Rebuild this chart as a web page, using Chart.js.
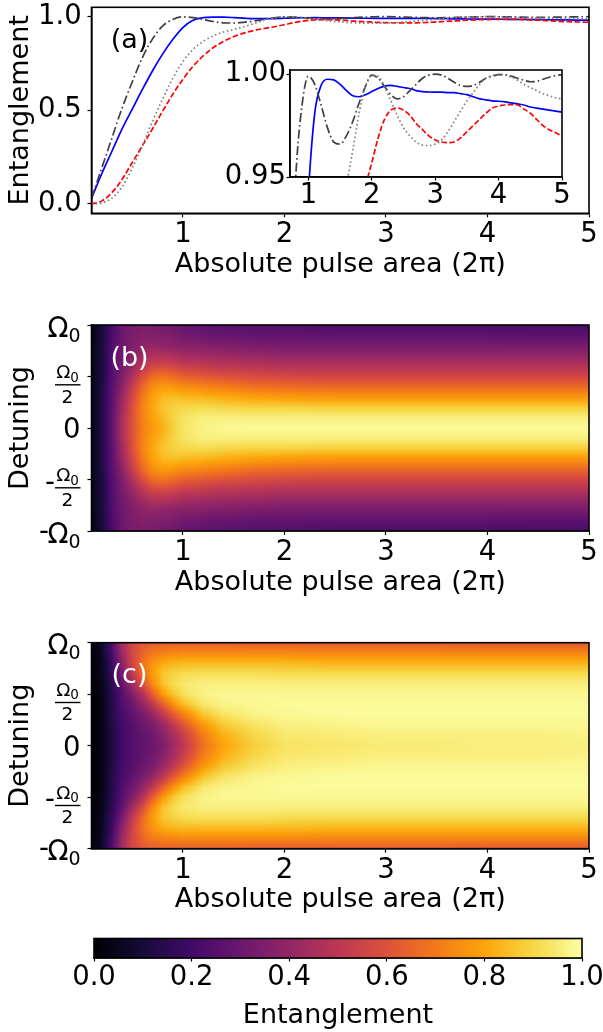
<!DOCTYPE html>
<html><head><meta charset="utf-8">
<script src="https://cdn.jsdelivr.net/npm/chart.js@4/dist/chart.umd.min.js"></script>
<style>
html,body{margin:0;padding:0;background:#fff;}
#wrap{position:relative;width:603px;height:1032px;overflow:hidden;background:#fff;}
canvas{position:absolute;display:block;}
</style></head><body>
<div id="wrap">
<canvas id="cA" width="603" height="300" style="left:0;top:0"></canvas>
<canvas id="cI" width="380" height="160" style="left:200px;top:55px"></canvas>
<canvas id="cB" width="603" height="310" style="left:0;top:300px"></canvas>
<canvas id="cC" width="603" height="310" style="left:0;top:620px"></canvas>
<canvas id="cBar" width="603" height="107" style="left:0;top:925px"></canvas>
</div>
<script>
// ---------------- data ----------------
const pulseArea = [0.1,0.2,0.3,0.4,0.5,0.6,0.7,0.8,0.9,1.0,1.1,1.2,1.3,1.4,1.5,1.6,1.7,1.8,1.9,2.0,2.1,2.2,2.3,2.4,2.5,2.6,2.7,2.8,2.9,3.0,3.1,3.2,3.3,3.4,3.5,3.6,3.7,3.8,3.9,4.0,4.1,4.2,4.3,4.4,4.5,4.6,4.7,4.8,4.9,5.0];
const entDashDot = [0.03,0.19,0.35,0.51,0.65,0.78,0.88,0.95,0.985,0.999,
 0.995,0.985,0.974,0.967,0.966,0.970,0.977,0.986,0.994,0.9995,
 0.998,0.994,0.990,0.988,0.989,0.992,0.995,0.998,0.9995,1.000,
 0.9995,0.998,0.996,0.9945,0.994,0.9945,0.996,0.998,0.999,0.9998,
 0.9997,0.999,0.998,0.997,0.9963,0.9965,0.9975,0.9985,0.9993,0.9998];
const entSolid = [0.03,0.16,0.28,0.40,0.505,0.61,0.71,0.80,0.878,0.942,
 0.981,0.9945,0.9975,0.9972,0.995,0.992,0.9895,0.989,0.990,0.9915,
 0.993,0.9942,0.9945,0.994,0.9935,0.993,0.992,0.9915,0.9913,0.9912,
 0.9912,0.991,0.991,0.9905,0.990,0.989,0.988,0.9875,0.987,0.9868,
 0.9865,0.986,0.9855,0.985,0.984,0.9835,0.983,0.9825,0.982,0.9815];
const entDotted = [0.0,0.005,0.03,0.09,0.19,0.31,0.44,0.56,0.67,0.76,
 0.825,0.868,0.898,0.918,0.932,0.946,0.963,0.981,0.994,0.9995,
 0.999,0.994,0.987,0.980,0.974,0.970,0.967,0.9655,0.9653,0.966,
 0.968,0.972,0.977,0.982,0.987,0.991,0.995,0.998,0.9993,0.9998,
 0.9995,0.9985,0.997,0.995,0.9935,0.992,0.9905,0.9895,0.9885,0.988];
const entDashed = [0.0,0.015,0.06,0.13,0.22,0.31,0.40,0.495,0.585,0.665,
 0.735,0.79,0.835,0.868,0.893,0.912,0.926,0.937,0.946,0.957,
 0.969,0.978,0.9825,0.9835,0.9825,0.980,0.976,0.973,0.970,0.968,
 0.967,0.9667,0.967,0.969,0.972,0.975,0.978,0.981,0.9835,0.9845,
 0.985,0.9852,0.985,0.983,0.981,0.978,0.975,0.973,0.9715,0.970];

const xTicks = [1,2,3,4,5];
const yTicksMain = [0.0,0.5,1.0];
const yTicksInset = [0.95,1.00];
const detuningTicks = [1,0.5,0,-0.5,-1];
const cbTicks = [0.0,0.2,0.4,0.6,0.8,1.0];

const heatArea = [0.1,0.2,0.3,0.4,0.5,0.6,0.7,0.8,0.9,1.0,1.2,1.4,1.7,2.0,2.5,3.0,3.5,4.0,4.5,5.0];
const detuning = [1.0,0.9,0.8,0.7,0.6,0.5,0.4,0.3,0.2,0.1,0.0,-0.1,-0.2,-0.3,-0.4,-0.5,-0.6,-0.7,-0.8,-0.9,-1.0];

const heatB = [
 [0.03,0.10,0.22,0.30,0.33,0.34,0.33,0.32,0.31,0.29,0.27,0.26,0.25,0.24,0.23,0.23,0.23,0.22,0.22,0.22],
 [0.03,0.10,0.22,0.30,0.34,0.36,0.36,0.35,0.34,0.32,0.30,0.29,0.28,0.28,0.27,0.27,0.27,0.27,0.26,0.26],
 [0.03,0.11,0.23,0.31,0.35,0.38,0.40,0.39,0.38,0.37,0.36,0.35,0.34,0.33,0.33,0.33,0.33,0.33,0.33,0.33],
 [0.03,0.11,0.23,0.32,0.37,0.43,0.47,0.47,0.46,0.44,0.43,0.42,0.41,0.40,0.40,0.40,0.40,0.40,0.40,0.40],
 [0.03,0.11,0.24,0.33,0.41,0.50,0.56,0.57,0.56,0.53,0.52,0.50,0.49,0.48,0.48,0.48,0.48,0.48,0.48,0.48],
 [0.03,0.11,0.24,0.35,0.46,0.58,0.67,0.69,0.67,0.64,0.62,0.60,0.58,0.57,0.56,0.56,0.56,0.56,0.56,0.56],
 [0.03,0.12,0.25,0.38,0.52,0.66,0.75,0.78,0.77,0.75,0.73,0.71,0.68,0.67,0.66,0.66,0.66,0.66,0.66,0.66],
 [0.03,0.12,0.26,0.41,0.56,0.70,0.79,0.84,0.85,0.84,0.83,0.81,0.79,0.78,0.77,0.77,0.77,0.77,0.77,0.77],
 [0.03,0.12,0.26,0.43,0.59,0.72,0.80,0.86,0.89,0.90,0.91,0.90,0.89,0.89,0.88,0.88,0.88,0.88,0.88,0.88],
 [0.03,0.12,0.27,0.45,0.60,0.72,0.79,0.84,0.89,0.93,0.96,0.96,0.96,0.96,0.96,0.96,0.96,0.96,0.96,0.96],
 [0.03,0.12,0.27,0.45,0.60,0.71,0.77,0.82,0.88,0.93,0.97,0.98,0.99,0.99,0.99,0.99,0.99,0.99,0.99,0.99],
 [0.03,0.12,0.27,0.45,0.60,0.72,0.79,0.84,0.89,0.93,0.96,0.96,0.96,0.96,0.96,0.96,0.96,0.96,0.96,0.96],
 [0.03,0.12,0.26,0.43,0.59,0.72,0.80,0.86,0.89,0.90,0.91,0.90,0.89,0.89,0.88,0.88,0.88,0.88,0.88,0.88],
 [0.03,0.12,0.26,0.41,0.56,0.70,0.79,0.84,0.85,0.84,0.83,0.81,0.79,0.78,0.77,0.77,0.77,0.77,0.77,0.77],
 [0.03,0.12,0.25,0.38,0.52,0.66,0.75,0.78,0.77,0.75,0.73,0.71,0.68,0.67,0.66,0.66,0.66,0.66,0.66,0.66],
 [0.03,0.11,0.24,0.35,0.46,0.58,0.67,0.69,0.67,0.64,0.62,0.60,0.58,0.57,0.56,0.56,0.56,0.56,0.56,0.56],
 [0.03,0.11,0.24,0.33,0.41,0.50,0.56,0.57,0.56,0.53,0.52,0.50,0.49,0.48,0.48,0.48,0.48,0.48,0.48,0.48],
 [0.03,0.11,0.23,0.32,0.37,0.43,0.47,0.47,0.46,0.44,0.43,0.42,0.41,0.40,0.40,0.40,0.40,0.40,0.40,0.40],
 [0.03,0.11,0.23,0.31,0.35,0.38,0.40,0.39,0.38,0.37,0.36,0.35,0.34,0.33,0.33,0.33,0.33,0.33,0.33,0.33],
 [0.03,0.10,0.22,0.30,0.34,0.36,0.36,0.35,0.34,0.32,0.30,0.29,0.28,0.28,0.27,0.27,0.27,0.27,0.26,0.26],
 [0.03,0.10,0.22,0.30,0.33,0.34,0.33,0.32,0.31,0.29,0.27,0.26,0.25,0.24,0.23,0.23,0.23,0.22,0.22,0.22]
];

const heatC = [
 [0.01,0.07,0.23,0.44,0.56,0.61,0.63,0.64,0.64,0.64,0.64,0.64,0.63,0.63,0.63,0.63,0.63,0.62,0.62,0.62],
 [0.01,0.06,0.21,0.42,0.56,0.65,0.70,0.72,0.73,0.74,0.74,0.74,0.74,0.74,0.73,0.73,0.73,0.73,0.73,0.73],
 [0.00,0.05,0.19,0.38,0.55,0.68,0.76,0.81,0.83,0.84,0.84,0.84,0.84,0.84,0.83,0.83,0.83,0.83,0.83,0.83],
 [0.00,0.05,0.17,0.33,0.51,0.66,0.78,0.86,0.89,0.91,0.92,0.92,0.92,0.91,0.91,0.91,0.91,0.91,0.91,0.91],
 [0.00,0.04,0.15,0.28,0.43,0.58,0.74,0.85,0.91,0.94,0.96,0.96,0.96,0.96,0.96,0.96,0.96,0.96,0.96,0.96],
 [0.00,0.04,0.14,0.25,0.35,0.47,0.63,0.77,0.86,0.92,0.97,0.98,0.98,0.98,0.98,0.98,0.98,0.98,0.98,0.98],
 [0.00,0.03,0.13,0.23,0.30,0.39,0.50,0.63,0.75,0.84,0.94,0.97,0.98,0.99,0.99,0.99,0.99,0.99,0.99,0.99],
 [0.00,0.03,0.13,0.22,0.27,0.33,0.40,0.50,0.61,0.71,0.86,0.93,0.97,0.98,0.99,0.99,0.99,0.99,0.99,0.99],
 [0.00,0.03,0.12,0.21,0.25,0.30,0.34,0.41,0.50,0.60,0.77,0.87,0.93,0.96,0.97,0.98,0.98,0.98,0.98,0.98],
 [0.00,0.03,0.12,0.20,0.24,0.28,0.31,0.37,0.44,0.53,0.71,0.82,0.90,0.94,0.95,0.96,0.96,0.96,0.96,0.97],
 [0.00,0.03,0.12,0.20,0.24,0.27,0.30,0.35,0.42,0.50,0.68,0.80,0.88,0.93,0.94,0.95,0.95,0.96,0.96,0.96],
 [0.00,0.03,0.12,0.20,0.24,0.28,0.31,0.37,0.44,0.53,0.71,0.82,0.90,0.94,0.95,0.96,0.96,0.96,0.96,0.97],
 [0.00,0.03,0.12,0.21,0.25,0.30,0.34,0.41,0.50,0.60,0.77,0.87,0.93,0.96,0.97,0.98,0.98,0.98,0.98,0.98],
 [0.00,0.03,0.13,0.22,0.27,0.33,0.40,0.50,0.61,0.71,0.86,0.93,0.97,0.98,0.99,0.99,0.99,0.99,0.99,0.99],
 [0.00,0.03,0.13,0.23,0.30,0.39,0.50,0.63,0.75,0.84,0.94,0.97,0.98,0.99,0.99,0.99,0.99,0.99,0.99,0.99],
 [0.00,0.04,0.14,0.25,0.35,0.47,0.63,0.77,0.86,0.92,0.97,0.98,0.98,0.98,0.98,0.98,0.98,0.98,0.98,0.98],
 [0.00,0.04,0.15,0.28,0.43,0.58,0.74,0.85,0.91,0.94,0.96,0.96,0.96,0.96,0.96,0.96,0.96,0.96,0.96,0.96],
 [0.00,0.05,0.17,0.33,0.51,0.66,0.78,0.86,0.89,0.91,0.92,0.92,0.92,0.91,0.91,0.91,0.91,0.91,0.91,0.91],
 [0.00,0.05,0.19,0.38,0.55,0.68,0.76,0.81,0.83,0.84,0.84,0.84,0.84,0.84,0.83,0.83,0.83,0.83,0.83,0.83],
 [0.01,0.06,0.21,0.42,0.56,0.65,0.70,0.72,0.73,0.74,0.74,0.74,0.74,0.74,0.73,0.73,0.73,0.73,0.73,0.73],
 [0.01,0.07,0.23,0.44,0.56,0.61,0.63,0.64,0.64,0.64,0.64,0.64,0.63,0.63,0.63,0.63,0.63,0.62,0.62,0.62]
];

const inferno = ['#000004','#160b39','#420a68','#6a176e','#932667','#bc3754','#dd513a','#f37819','#fca50a','#f6d746','#fcffa4'];

// ---------------- helpers ----------------
const FAM = "'DejaVu Sans', sans-serif";
const TFS = 27.5;   // tick font
const LFS = 27;     // axis title font
Chart.defaults.font.family = FAM;
Chart.defaults.color = '#000';
Chart.defaults.animation = false;
Chart.defaults.events = [];
Chart.defaults.plugins.legend.display = false;
Chart.defaults.plugins.tooltip.enabled = false;

const infRGB = inferno.map(h => [parseInt(h.slice(1,3),16), parseInt(h.slice(3,5),16), parseInt(h.slice(5,7),16)]);
function cmap(v){
  v = Math.max(0, Math.min(1, v));
  const n = infRGB.length - 1, f = v * n;
  const i = Math.min(n - 1, Math.floor(f)), t = f - i;
  const a = infRGB[i], b = infRGB[i+1];
  return [a[0]+(b[0]-a[0])*t, a[1]+(b[1]-a[1])*t, a[2]+(b[2]-a[2])*t];
}

function xAxis(o){
  return {
    type:'linear', position:'bottom', min:o.min, max:o.max,
    afterBuildTicks: s => { s.ticks = o.ticks.map(v => ({value:v})); },
    afterFit: s => { s.height = o.height; s.paddingLeft = 0; s.paddingRight = 0; },
    ticks:{ font:{size:TFS}, color:'#000', padding:o.pad, maxRotation:0, autoSkip:false, callback:o.fmt },
    grid:{ display:true, drawOnChartArea:false, drawTicks:true, tickLength:o.tl, tickColor:'#000', tickWidth:1.2 },
    border:{ display:true, color:'#000', width:1.6 },
    title: o.title ? { display:true, text:o.title, font:{size:LFS}, color:'#000', padding:{top:0, bottom:o.tpad} } : { display:false }
  };
}
function yAxis(o){
  return {
    type:'linear', position:'left', min:o.min, max:o.max,
    afterBuildTicks: s => { s.ticks = o.ticks.map(v => ({value:v})); },
    afterFit: s => { s.width = o.width; s.paddingTop = 0; s.paddingBottom = 0; },
    ticks:{ font:{size:TFS}, color:'#000', padding:o.pad, autoSkip:false, callback:o.fmt },
    grid:{ display:true, drawOnChartArea:false, drawTicks:true, tickLength:o.tl, tickColor:'#000', tickWidth:1.2 },
    border:{ display:true, color:'#000', width:1.6 },
    title: o.title ? { display:true, text:o.title, font:{size:LFS}, color:'#000', padding:{top:4.8, bottom:0} } : { display:false }
  };
}
const frame = { id:'frame', afterDraw(c){
  const a = c.chartArea, ctx = c.ctx;
  ctx.save(); ctx.strokeStyle = '#000'; ctx.lineWidth = 1.6;
  ctx.strokeRect(a.left, a.top, a.right - a.left, a.bottom - a.top); ctx.restore();
}};
const whiteBg = { id:'whiteBg', beforeDraw(c){
  const a = c.chartArea, ctx = c.ctx;
  ctx.save(); ctx.fillStyle = '#fff'; ctx.fillRect(a.left, a.top, a.right - a.left, a.bottom - a.top); ctx.restore();
}};
function panelLabel(text, color){
  return { id:'plabel', afterDatasetsDraw(c){
    const a = c.chartArea, ctx = c.ctx;
    ctx.save(); ctx.fillStyle = color; ctx.font = LFS + 'px ' + FAM;
    ctx.textAlign = 'center'; ctx.textBaseline = 'middle';
    ctx.fillText(text, a.left + 38, a.top + 33.5); ctx.restore();
  }};
}
function heatPlugin(grid){
  return { id:'heat', beforeDatasetsDraw(chart){
    const {ctx, chartArea:a, scales:{x, y}} = chart;
    const L = Math.floor(a.left), T = Math.floor(a.top);
    const W = Math.ceil(a.right) - L, H = Math.ceil(a.bottom) - T;
    const off = document.createElement('canvas'); off.width = W; off.height = H;
    const octx = off.getContext('2d'); const img = octx.createImageData(W, H);
    const nc = heatArea.length, nr = detuning.length;
    const ci = [], ct = [];
    for (let i = 0; i < W; i++){
      let v = x.getValueForPixel(L + i + 0.5);
      v = Math.min(Math.max(v, heatArea[0]), heatArea[nc-1]);
      let k = 0; while (k < nc - 2 && heatArea[k+1] < v) k++;
      ci.push(k); ct.push((v - heatArea[k]) / (heatArea[k+1] - heatArea[k]));
    }
    for (let j = 0; j < H; j++){
      let d = y.getValueForPixel(T + j + 0.5);
      d = Math.min(Math.max(d, detuning[nr-1]), detuning[0]);
      let r = 0; while (r < nr - 2 && detuning[r+1] > d) r++;
      const s = (detuning[r] - d) / (detuning[r] - detuning[r+1]);
      for (let i = 0; i < W; i++){
        const k = ci[i], t = ct[i];
        const top = grid[r][k] * (1 - t) + grid[r][k+1] * t;
        const bot = grid[r+1][k] * (1 - t) + grid[r+1][k+1] * t;
        const c = cmap(top * (1 - s) + bot * s);
        const p = (j * W + i) * 4;
        img.data[p] = c[0]; img.data[p+1] = c[1]; img.data[p+2] = c[2]; img.data[p+3] = 255;
      }
    }
    octx.putImageData(img, 0, 0);
    ctx.save(); ctx.beginPath(); ctx.rect(a.left, a.top, a.right - a.left, a.bottom - a.top); ctx.clip();
    ctx.drawImage(off, L, T); ctx.restore();
  }};
}
const omegaLabels = { id:'omega', afterDraw(chart){
  const ctx = chart.ctx, ys = chart.scales.y, R = 80.5;
  ctx.save(); ctx.fillStyle = '#000'; ctx.strokeStyle = '#000'; ctx.textBaseline = 'alphabetic';
  detuningTicks.forEach(v => {
    const t = ys.getPixelForValue(v);
    if (Math.abs(v) === 1){
      ctx.font = '19px ' + FAM; const w0 = ctx.measureText('0').width;
      ctx.textAlign = 'left'; ctx.fillText('0', R - w0, t + 16.5);
      ctx.font = TFS + 'px ' + FAM; ctx.textAlign = 'right'; ctx.fillText('Ω', R - w0, t + 11.5);
      if (v < 0){ const wO = ctx.measureText('Ω').width; ctx.fillText('-', R - w0 - wO + 1.5, t + 8.5); }
    } else if (v === 0){
      ctx.font = TFS + 'px ' + FAM; ctx.textAlign = 'right'; ctx.fillText('0', R, t + 10.3);
    } else {
      const cx = 67.5;
      ctx.lineWidth = 1.4; ctx.beginPath(); ctx.moveTo(55, t + 8.3); ctx.lineTo(80.5, t + 8.3); ctx.stroke();
      ctx.font = '18.5px ' + FAM; const wO = ctx.measureText('Ω').width;
      ctx.font = '13.5px ' + FAM; const w0 = ctx.measureText('0').width;
      const st = cx - (wO + w0) / 2;
      ctx.textAlign = 'left';
      ctx.font = '18.5px ' + FAM; ctx.fillText('Ω', st, t + 1.8);
      ctx.font = '13.5px ' + FAM; ctx.fillText('0', st + wO, t + 5);
      ctx.font = '18.5px ' + FAM; ctx.textAlign = 'center'; ctx.fillText('2', cx, t + 26);
      if (v < 0){ ctx.font = TFS + 'px ' + FAM; ctx.textAlign = 'right'; ctx.fillText('-', 55, t + 11); }
    }
  });
  ctx.restore();
}};

const fmtInt = v => String(Math.round(v));
const fmt1 = v => Number(v).toFixed(1);
const fmt2 = v => Number(v).toFixed(2);
function series(vals, color, dash){
  return { data: pulseArea.map((x, i) => ({x, y: vals[i]})), borderColor: color, borderWidth: 1.7,
    borderDash: dash, pointRadius: 0, fill: false, cubicInterpolationMode: 'monotone', showLine: true };
}
function lineSets(){
  return [
    series(entDotted, '#808080', [1.6, 2.6]),
    series(entDashed, '#ff0000', [5.6, 2.4]),
    series(entDashDot, '#404040', [9, 3, 1.6, 3]),
    series(entSolid, '#0000ff', [])
  ];
}

// ---------------- panel (a) ----------------
new Chart(document.getElementById('cA'), {
  type:'scatter',
  data:{ datasets: lineSets() },
  options:{ responsive:false, maintainAspectRatio:false,
    layout:{ padding:{ left:0, right:14, top:7.3, bottom:0 } },
    scales:{
      x: xAxis({min:0.1, max:5, ticks:xTicks, fmt:fmtInt, height:86.7, tl:4, pad:1.5, title:'Absolute pulse area (2π)', tpad:19.0}),
      y: yAxis({min:-0.05, max:1.05, ticks:yTicksMain, fmt:fmt1, width:91.5, tl:4, pad:5.8, title:'Entanglement'})
    }
  },
  plugins:[frame, panelLabel('(a)', '#000')]
});

// ---------------- inset ----------------
new Chart(document.getElementById('cI'), {
  type:'scatter',
  data:{ datasets: lineSets() },
  options:{ responsive:false, maintainAspectRatio:false,
    layout:{ padding:{ left:0, right:18, top:15, bottom:0 } },
    scales:{
      x: xAxis({min:0.71, max:5, ticks:xTicks, fmt:fmtInt, height:38, tl:3.5, pad:-1}),
      y: yAxis({min:0.95, max:1.002, ticks:yTicksInset, fmt:fmt2, width:90, tl:3.5, pad:0.5})
    }
  },
  plugins:[whiteBg, frame]
});

// ---------------- panels (b), (c) ----------------
function heatChart(id, grid, label, padTop, xh, tpad){
  new Chart(document.getElementById(id), {
    type:'scatter',
    data:{ datasets:[{ data:[] }] },
    options:{ responsive:false, maintainAspectRatio:false,
      layout:{ padding:{ left:0, right:14, top:padTop, bottom:0 } },
      scales:{
        x: xAxis({min:0.1, max:5, ticks:xTicks, fmt:fmtInt, height:xh, tl:4, pad:1.5, title:'Absolute pulse area (2π)', tpad:tpad}),
        y: yAxis({min:-1, max:1, ticks:detuningTicks, fmt:() => '', width:91.5, tl:4, pad:5.8, title:'Detuning'})
      }
    },
    plugins:[heatPlugin(grid), frame, omegaLabels, panelLabel(label, '#fff')]
  });
}
heatChart('cB', heatB, '(b)', 25, 79, 11.3);
heatChart('cC', heatC, '(c)', 22.7, 81.3, 13.6);

// ---------------- colorbar ----------------
const gradientBar = { id:'gradBar', beforeDatasetsDraw(c){
  const {ctx, chartArea:a, scales:{x}} = c;
  const g = ctx.createLinearGradient(x.getPixelForValue(0), 0, x.getPixelForValue(1), 0);
  inferno.forEach((col, i) => g.addColorStop(i / (inferno.length - 1), col));
  ctx.save(); ctx.fillStyle = g; ctx.fillRect(a.left, a.top, a.right - a.left, a.bottom - a.top); ctx.restore();
}};
new Chart(document.getElementById('cBar'), {
  type:'scatter',
  data:{ datasets:[{ data:[] }] },
  options:{ responsive:false, maintainAspectRatio:false,
    layout:{ padding:{ left:94, right:21, top:13.5, bottom:0 } },
    scales:{
      x: xAxis({min:0, max:1, ticks:cbTicks, fmt:fmt1, height:74, tl:3.5, pad:0, title:'Entanglement', tpad:0}),
      y: { display:false, min:0, max:1 }
    }
  },
  plugins:[gradientBar, frame]
});
</script>
</body></html>
